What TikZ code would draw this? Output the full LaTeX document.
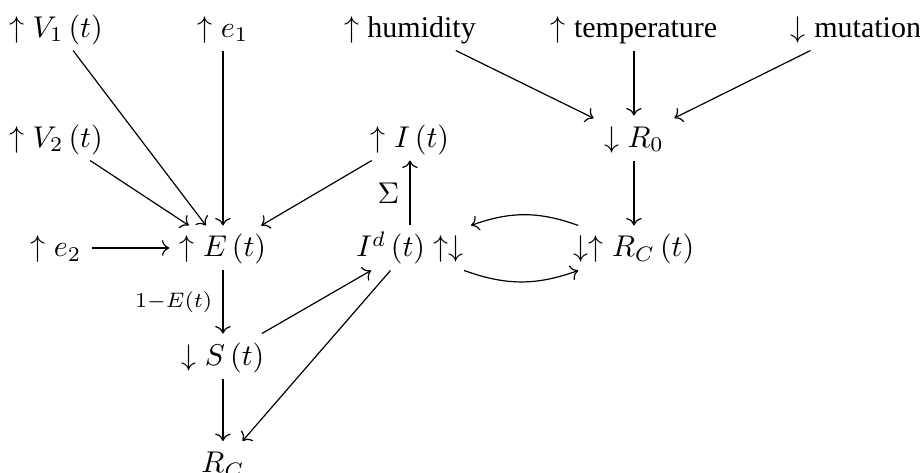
\documentclass[tikz,border=0pt]{standalone}
\usepackage{amsmath,amssymb}
\usepackage[no-math]{fontspec}
\setmainfont{Liberation Serif}
\usepackage{tikz}
\usetikzlibrary{arrows.meta, calc}

\begin{document}
\begin{tikzpicture}[
    cell/.style={inner xsep=3.3pt, inner ysep=1.8pt, text height=8.5pt, text depth=2.5pt},
    arr/.style={-{To}, line width=0.4pt}
]
\useasboundingbox (0,0) rectangle (10.778,-5.541);

% top row: drivers
\node[cell] (v1) at (0.656,-0.328) {$\uparrow V_1\left(t\right)$};
\node[cell] (e1) at (2.612,-0.328) {$\uparrow e_1$};
\node[cell] (hum) at (4.803,-0.328) {$\uparrow\text{humidity}$};
\node[cell] (temp) at (7.427,-0.328) {$\uparrow\text{temperature}$};
\node[cell] (mut) at (10.028,-0.328) {$\downarrow\text{mutation}$};

\node[cell] (v2) at (0.656,-1.617) {$\uparrow V_2\left(t\right)$};
\node[cell] (it) at (4.803,-1.617) {$\uparrow I\left(t\right)$};
\node[cell] (rnull) at (7.427,-1.617) {$\downarrow R_0$};

\node[cell] (e2) at (0.656,-2.905) {$\uparrow e_2$};
\node[cell] (et) at (2.612,-2.905) {$\uparrow E\left(t\right)$};
\node[cell] (idt) at (4.803,-2.905) {$I^d\left(t\right)\uparrow\downarrow$};
\node[cell] (rct) at (7.427,-2.905) {$\downarrow\uparrow R_C\left(t\right)$};

\node[cell] (st) at (2.612,-4.171) {$\downarrow S\left(t\right)$};
\node[cell] (rc) at (2.612,-5.430) {$R_C$};

% into E(t)
\draw[arr] (v1) -- (et);
\draw[arr] (e1) -- (et);
\draw[arr] (v2) -- (et);
\draw[arr] (it) -- (et);
\draw[arr] (e2) -- (et);

% into R_0
\draw[arr] (hum) -- (rnull);
\draw[arr] (temp) -- (rnull);
\draw[arr] (mut) -- (rnull);
\draw[arr] (rnull) -- (rct);

\draw[arr] (idt) -- node[left] {$\Sigma$} (it);
\draw[arr] (et) -- node[left] {$\scriptstyle 1-E(t)$} (st);
\draw[arr] (st) -- (idt);
\draw[arr] (st) -- (rc);
\draw[arr] (idt) -- (rc);

% feedback between I^d and R_C
\draw[arr] ([xshift=5pt]rct.north west) to[bend right=20] ([xshift=-1pt]idt.north east);
\draw[arr] ([xshift=-3.3pt]idt.south east) to[bend right=20] ([xshift=5pt]rct.south west);
\end{tikzpicture}
\end{document}
